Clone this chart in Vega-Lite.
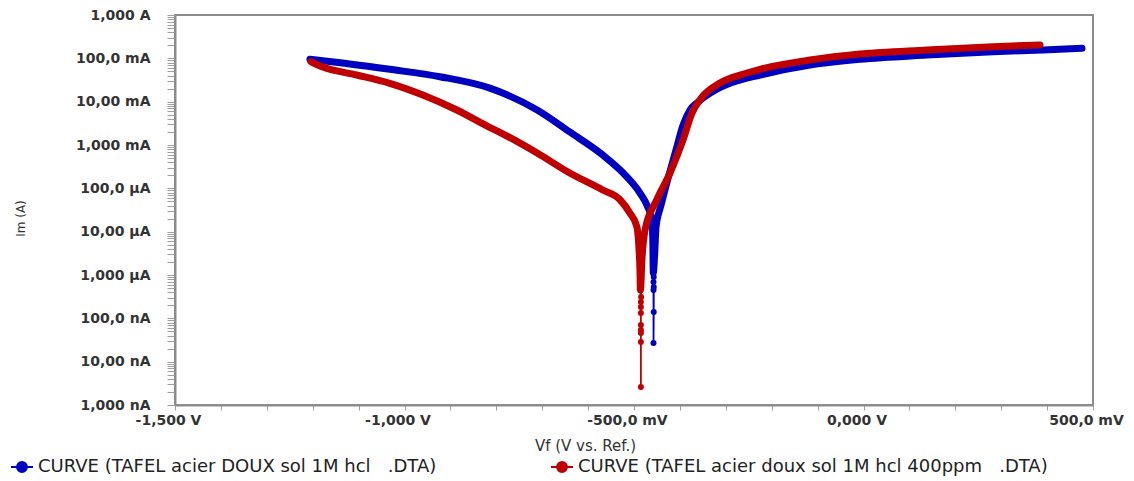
{
  "$schema": "https://vega.github.io/schema/vega-lite/v6.json",
  "autosize": "none",
  "width": 918,
  "height": 390,
  "padding": {"left": 175, "top": 15, "right": 41, "bottom": 76},
  "background": "white",
  "config": {
    "view": {"stroke": "#8c8c8c", "strokeWidth": 2},
    "axis": {
      "labelFont": "DejaVu Sans", "labelFontSize": 14, "labelFontWeight": "bold", "labelColor": "#333333",
      "titleFont": "DejaVu Sans", "titleFontWeight": "normal", "titleColor": "#333333",
      "domainColor": "#8c8c8c", "domainWidth": 2, "tickColor": "#a0a0a0", "grid": false
    },
    "legend": {"labelFont": "DejaVu Sans", "labelFontSize": 18, "labelColor": "#222222"}
  },
  "data": {
    "values": [
      {"s": "CURVE (TAFEL acier DOUX sol 1M hcl\u00a0\u00a0\u00a0.DTA)", "o": 1, "E": -1206, "I": 0.095, "spike": false},
      {"s": "CURVE (TAFEL acier DOUX sol 1M hcl\u00a0\u00a0\u00a0.DTA)", "o": 2, "E": -1140, "I": 0.0793, "spike": false},
      {"s": "CURVE (TAFEL acier DOUX sol 1M hcl\u00a0\u00a0\u00a0.DTA)", "o": 3, "E": -1032, "I": 0.0558, "spike": false},
      {"s": "CURVE (TAFEL acier DOUX sol 1M hcl\u00a0\u00a0\u00a0.DTA)", "o": 4, "E": -923, "I": 0.0377, "spike": false},
      {"s": "CURVE (TAFEL acier DOUX sol 1M hcl\u00a0\u00a0\u00a0.DTA)", "o": 6, "E": -814, "I": 0.0205, "spike": false},
      {"s": "CURVE (TAFEL acier DOUX sol 1M hcl\u00a0\u00a0\u00a0.DTA)", "o": 8, "E": -711, "I": 0.00642, "spike": false},
      {"s": "CURVE (TAFEL acier DOUX sol 1M hcl\u00a0\u00a0\u00a0.DTA)", "o": 9, "E": -640, "I": 0.002, "spike": false},
      {"s": "CURVE (TAFEL acier DOUX sol 1M hcl\u00a0\u00a0\u00a0.DTA)", "o": 10, "E": -568, "I": 0.000587, "spike": false},
      {"s": "CURVE (TAFEL acier DOUX sol 1M hcl\u00a0\u00a0\u00a0.DTA)", "o": 11, "E": -515, "I": 0.000182, "spike": false},
      {"s": "CURVE (TAFEL acier DOUX sol 1M hcl\u00a0\u00a0\u00a0.DTA)", "o": 12, "E": -487, "I": 0.000078, "spike": false},
      {"s": "CURVE (TAFEL acier DOUX sol 1M hcl\u00a0\u00a0\u00a0.DTA)", "o": 13, "E": -470, "I": 0.0000371, "spike": false},
      {"s": "CURVE (TAFEL acier DOUX sol 1M hcl\u00a0\u00a0\u00a0.DTA)", "o": 14, "E": -461, "I": 0.0000186, "spike": false},
      {"s": "CURVE (TAFEL acier DOUX sol 1M hcl\u00a0\u00a0\u00a0.DTA)", "o": 15, "E": -459, "I": 0.00000642, "spike": false},
      {"s": "CURVE (TAFEL acier DOUX sol 1M hcl\u00a0\u00a0\u00a0.DTA)", "o": 16, "E": -458.5, "I": 0.00000247, "spike": false},
      {"s": "CURVE (TAFEL acier DOUX sol 1M hcl\u00a0\u00a0\u00a0.DTA)", "o": 17, "E": -458, "I": 0.00000111, "spike": false},
      {"s": "CURVE (TAFEL acier DOUX sol 1M hcl\u00a0\u00a0\u00a0.DTA)", "o": 18, "E": -457.5, "I": 0.000000689, "spike": true},
      {"s": "CURVE (TAFEL acier DOUX sol 1M hcl\u00a0\u00a0\u00a0.DTA)", "o": 19, "E": -457.5, "I": 0.00000045, "spike": true},
      {"s": "CURVE (TAFEL acier DOUX sol 1M hcl\u00a0\u00a0\u00a0.DTA)", "o": 20, "E": -457.5, "I": 0.0000000269, "spike": true},
      {"s": "CURVE (TAFEL acier DOUX sol 1M hcl\u00a0\u00a0\u00a0.DTA)", "o": 21, "E": -457, "I": 0.00000014, "spike": true},
      {"s": "CURVE (TAFEL acier DOUX sol 1M hcl\u00a0\u00a0\u00a0.DTA)", "o": 22, "E": -457, "I": 0.000000528, "spike": true},
      {"s": "CURVE (TAFEL acier DOUX sol 1M hcl\u00a0\u00a0\u00a0.DTA)", "o": 23, "E": -457, "I": 0.000000898, "spike": true},
      {"s": "CURVE (TAFEL acier DOUX sol 1M hcl\u00a0\u00a0\u00a0.DTA)", "o": 24, "E": -455, "I": 0.000003, "spike": false},
      {"s": "CURVE (TAFEL acier DOUX sol 1M hcl\u00a0\u00a0\u00a0.DTA)", "o": 25, "E": -452, "I": 0.0000128, "spike": false},
      {"s": "CURVE (TAFEL acier DOUX sol 1M hcl\u00a0\u00a0\u00a0.DTA)", "o": 26, "E": -441, "I": 0.0000412, "spike": false},
      {"s": "CURVE (TAFEL acier DOUX sol 1M hcl\u00a0\u00a0\u00a0.DTA)", "o": 27, "E": -428, "I": 0.00014, "spike": false},
      {"s": "CURVE (TAFEL acier DOUX sol 1M hcl\u00a0\u00a0\u00a0.DTA)", "o": 28, "E": -408.5, "I": 0.000766, "spike": false},
      {"s": "CURVE (TAFEL acier DOUX sol 1M hcl\u00a0\u00a0\u00a0.DTA)", "o": 29, "E": -393, "I": 0.00289, "spike": false},
      {"s": "CURVE (TAFEL acier DOUX sol 1M hcl\u00a0\u00a0\u00a0.DTA)", "o": 30, "E": -378, "I": 0.00642, "spike": false},
      {"s": "CURVE (TAFEL acier DOUX sol 1M hcl\u00a0\u00a0\u00a0.DTA)", "o": 31, "E": -360.6, "I": 0.00982, "spike": false},
      {"s": "CURVE (TAFEL acier DOUX sol 1M hcl\u00a0\u00a0\u00a0.DTA)", "o": 32, "E": -334, "I": 0.0158, "spike": false},
      {"s": "CURVE (TAFEL acier DOUX sol 1M hcl\u00a0\u00a0\u00a0.DTA)", "o": 33, "E": -313, "I": 0.021, "spike": false},
      {"s": "CURVE (TAFEL acier DOUX sol 1M hcl\u00a0\u00a0\u00a0.DTA)", "o": 34, "E": -291, "I": 0.0265, "spike": false},
      {"s": "CURVE (TAFEL acier DOUX sol 1M hcl\u00a0\u00a0\u00a0.DTA)", "o": 35, "E": -225.5, "I": 0.0412, "spike": false},
      {"s": "CURVE (TAFEL acier DOUX sol 1M hcl\u00a0\u00a0\u00a0.DTA)", "o": 36, "E": -116.6, "I": 0.0702, "spike": false},
      {"s": "CURVE (TAFEL acier DOUX sol 1M hcl\u00a0\u00a0\u00a0.DTA)", "o": 37, "E": -7.7, "I": 0.095, "spike": false},
      {"s": "CURVE (TAFEL acier DOUX sol 1M hcl\u00a0\u00a0\u00a0.DTA)", "o": 38, "E": 138, "I": 0.119, "spike": false},
      {"s": "CURVE (TAFEL acier DOUX sol 1M hcl\u00a0\u00a0\u00a0.DTA)", "o": 39, "E": 282, "I": 0.142, "spike": false},
      {"s": "CURVE (TAFEL acier DOUX sol 1M hcl\u00a0\u00a0\u00a0.DTA)", "o": 40, "E": 391, "I": 0.156, "spike": false},
      {"s": "CURVE (TAFEL acier DOUX sol 1M hcl\u00a0\u00a0\u00a0.DTA)", "o": 41, "E": 476, "I": 0.17, "spike": false},
      {"s": "CURVE (TAFEL acier doux sol 1M hcl 400ppm\u00a0\u00a0\u00a0.DTA)", "o": 1, "E": -1204, "I": 0.0836, "spike": false},
      {"s": "CURVE (TAFEL acier doux sol 1M hcl 400ppm\u00a0\u00a0\u00a0.DTA)", "o": 2, "E": -1178, "I": 0.0631, "spike": false},
      {"s": "CURVE (TAFEL acier doux sol 1M hcl 400ppm\u00a0\u00a0\u00a0.DTA)", "o": 3, "E": -1104, "I": 0.0412, "spike": false},
      {"s": "CURVE (TAFEL acier doux sol 1M hcl 400ppm\u00a0\u00a0\u00a0.DTA)", "o": 4, "E": -1032, "I": 0.0265, "spike": false},
      {"s": "CURVE (TAFEL acier doux sol 1M hcl 400ppm\u00a0\u00a0\u00a0.DTA)", "o": 5, "E": -960, "I": 0.01425, "spike": false},
      {"s": "CURVE (TAFEL acier doux sol 1M hcl 400ppm\u00a0\u00a0\u00a0.DTA)", "o": 6, "E": -886, "I": 0.00642, "spike": false},
      {"s": "CURVE (TAFEL acier doux sol 1M hcl 400ppm\u00a0\u00a0\u00a0.DTA)", "o": 7, "E": -820, "I": 0.00274, "spike": false},
      {"s": "CURVE (TAFEL acier doux sol 1M hcl 400ppm\u00a0\u00a0\u00a0.DTA)", "o": 8, "E": -785, "I": 0.00179, "spike": false},
      {"s": "CURVE (TAFEL acier doux sol 1M hcl 400ppm\u00a0\u00a0\u00a0.DTA)", "o": 9, "E": -711, "I": 0.000653, "spike": false},
      {"s": "CURVE (TAFEL acier doux sol 1M hcl 400ppm\u00a0\u00a0\u00a0.DTA)", "o": 10, "E": -640, "I": 0.000226, "spike": false},
      {"s": "CURVE (TAFEL acier doux sol 1M hcl 400ppm\u00a0\u00a0\u00a0.DTA)", "o": 11, "E": -568, "I": 0.0000914, "spike": false},
      {"s": "CURVE (TAFEL acier doux sol 1M hcl 400ppm\u00a0\u00a0\u00a0.DTA)", "o": 12, "E": -530, "I": 0.0000538, "spike": false},
      {"s": "CURVE (TAFEL acier doux sol 1M hcl 400ppm\u00a0\u00a0\u00a0.DTA)", "o": 13, "E": -509, "I": 0.0000269, "spike": false},
      {"s": "CURVE (TAFEL acier doux sol 1M hcl 400ppm\u00a0\u00a0\u00a0.DTA)", "o": 14, "E": -493.5, "I": 0.0000128, "spike": false},
      {"s": "CURVE (TAFEL acier doux sol 1M hcl 400ppm\u00a0\u00a0\u00a0.DTA)", "o": 15, "E": -489, "I": 0.00000377, "spike": false},
      {"s": "CURVE (TAFEL acier doux sol 1M hcl 400ppm\u00a0\u00a0\u00a0.DTA)", "o": 16, "E": -487, "I": 0.0000013, "spike": false},
      {"s": "CURVE (TAFEL acier doux sol 1M hcl 400ppm\u00a0\u00a0\u00a0.DTA)", "o": 17, "E": -486, "I": 0.00000045, "spike": false},
      {"s": "CURVE (TAFEL acier doux sol 1M hcl 400ppm\u00a0\u00a0\u00a0.DTA)", "o": 18, "E": -485, "I": 0.000000238, "spike": true},
      {"s": "CURVE (TAFEL acier doux sol 1M hcl 400ppm\u00a0\u00a0\u00a0.DTA)", "o": 19, "E": -485, "I": 0.000000133, "spike": true},
      {"s": "CURVE (TAFEL acier doux sol 1M hcl 400ppm\u00a0\u00a0\u00a0.DTA)", "o": 20, "E": -485, "I": 0.0000000537, "spike": true},
      {"s": "CURVE (TAFEL acier doux sol 1M hcl 400ppm\u00a0\u00a0\u00a0.DTA)", "o": 21, "E": -485, "I": 0.0000000284, "spike": true},
      {"s": "CURVE (TAFEL acier doux sol 1M hcl 400ppm\u00a0\u00a0\u00a0.DTA)", "o": 22, "E": -485, "I": 0.0000000026, "spike": true},
      {"s": "CURVE (TAFEL acier doux sol 1M hcl 400ppm\u00a0\u00a0\u00a0.DTA)", "o": 23, "E": -485, "I": 0.0000000458, "spike": true},
      {"s": "CURVE (TAFEL acier doux sol 1M hcl 400ppm\u00a0\u00a0\u00a0.DTA)", "o": 24, "E": -485, "I": 0.00000007, "spike": true},
      {"s": "CURVE (TAFEL acier doux sol 1M hcl 400ppm\u00a0\u00a0\u00a0.DTA)", "o": 25, "E": -485, "I": 0.000000182, "spike": true},
      {"s": "CURVE (TAFEL acier doux sol 1M hcl 400ppm\u00a0\u00a0\u00a0.DTA)", "o": 26, "E": -484.5, "I": 0.00000031, "spike": true},
      {"s": "CURVE (TAFEL acier doux sol 1M hcl 400ppm\u00a0\u00a0\u00a0.DTA)", "o": 27, "E": -483, "I": 0.000002, "spike": false},
      {"s": "CURVE (TAFEL acier doux sol 1M hcl 400ppm\u00a0\u00a0\u00a0.DTA)", "o": 28, "E": -476, "I": 0.0000109, "spike": false},
      {"s": "CURVE (TAFEL acier doux sol 1M hcl 400ppm\u00a0\u00a0\u00a0.DTA)", "o": 29, "E": -450.6, "I": 0.0000538, "spike": false},
      {"s": "CURVE (TAFEL acier doux sol 1M hcl 400ppm\u00a0\u00a0\u00a0.DTA)", "o": 30, "E": -421.6, "I": 0.000226, "spike": false},
      {"s": "CURVE (TAFEL acier doux sol 1M hcl 400ppm\u00a0\u00a0\u00a0.DTA)", "o": 31, "E": -393.3, "I": 0.0013, "spike": false},
      {"s": "CURVE (TAFEL acier doux sol 1M hcl 400ppm\u00a0\u00a0\u00a0.DTA)", "o": 32, "E": -373.7, "I": 0.00547, "spike": false},
      {"s": "CURVE (TAFEL acier doux sol 1M hcl 400ppm\u00a0\u00a0\u00a0.DTA)", "o": 33, "E": -351.9, "I": 0.0128, "spike": false},
      {"s": "CURVE (TAFEL acier doux sol 1M hcl 400ppm\u00a0\u00a0\u00a0.DTA)", "o": 34, "E": -312.7, "I": 0.027, "spike": false},
      {"s": "CURVE (TAFEL acier doux sol 1M hcl 400ppm\u00a0\u00a0\u00a0.DTA)", "o": 35, "E": -253.8, "I": 0.0459, "spike": false},
      {"s": "CURVE (TAFEL acier doux sol 1M hcl 400ppm\u00a0\u00a0\u00a0.DTA)", "o": 36, "E": -225.5, "I": 0.0558, "spike": false},
      {"s": "CURVE (TAFEL acier doux sol 1M hcl 400ppm\u00a0\u00a0\u00a0.DTA)", "o": 37, "E": -116.6, "I": 0.0915, "spike": false},
      {"s": "CURVE (TAFEL acier doux sol 1M hcl 400ppm\u00a0\u00a0\u00a0.DTA)", "o": 38, "E": -7.7, "I": 0.126, "spike": false},
      {"s": "CURVE (TAFEL acier doux sol 1M hcl 400ppm\u00a0\u00a0\u00a0.DTA)", "o": 39, "E": 138, "I": 0.156, "spike": false},
      {"s": "CURVE (TAFEL acier doux sol 1M hcl 400ppm\u00a0\u00a0\u00a0.DTA)", "o": 40, "E": 282, "I": 0.186, "spike": false},
      {"s": "CURVE (TAFEL acier doux sol 1M hcl 400ppm\u00a0\u00a0\u00a0.DTA)", "o": 41, "E": 384.5, "I": 0.203, "spike": false}
    ]
  },
  "encoding": {
    "x": {
      "field": "E", "type": "quantitative",
      "scale": {"domain": [-1500, 500], "nice": false, "zero": false},
      "axis": {
        "title": "Vf (V vs. Ref.)", "titleFontSize": 15, "titleX": 410, "titleY": 40, "titleBaseline": "middle", "titleAnchor": null,
        "values": [-1500,-1400,-1300,-1200,-1100,-1000,-900,-800,-700,-600,-500,-400,-300,-200,-100,0,100,200,300,400,500],
        "labelExpr": "datum.value == -1500 ? '-1,500 V' : datum.value == -1000 ? '-1,000 V' : datum.value == -500 ? '-500,0 mV' : datum.value == 0 ? '0,000 V' : datum.value == 500 ? '500,0 mV' : ''",
        "labelOverlap": false, "labelFlush": false, "tickSize": 5, "labelPadding": 3, "labelOffset": -7
      }
    },
    "y": {
      "field": "I", "type": "quantitative",
      "scale": {"type": "log", "domain": [1e-9, 1], "nice": false},
      "axis": {
        "title": "Im (A)", "titleFontSize": 12, "titleX": -155, "titleY": 203, "titleAngle": -90, "titleBaseline": "middle", "titleAnchor": null,
        "values": [1e-9,2e-9,3e-9,4e-9,5e-9,6e-9,7e-9,8e-9,9e-9,1e-8,2e-8,3e-8,4e-8,5e-8,6e-8,7e-8,8e-8,9e-8,1e-7,2e-7,3e-7,4e-7,5e-7,6e-7,7e-7,8e-7,9e-7,1e-6,2e-6,3e-6,4e-6,5e-6,6e-6,7e-6,8e-6,9e-6,1e-5,2e-5,3e-5,4e-5,5e-5,6e-5,7e-5,8e-5,9e-5,1e-4,2e-4,3e-4,4e-4,5e-4,6e-4,7e-4,8e-4,9e-4,1e-3,2e-3,3e-3,4e-3,5e-3,6e-3,7e-3,8e-3,9e-3,1e-2,2e-2,3e-2,4e-2,5e-2,6e-2,7e-2,8e-2,9e-2,0.1,0.2,0.3,0.4,0.5,0.6,0.7,0.8,0.9,1],
        "labelExpr": "abs(datum.value / pow(10, round(log(datum.value) / LN10)) - 1) < 0.001 ? ['1,000 nA','10,00 nA','100,0 nA','1,000 µA','10,00 µA','100,0 µA','1,000 mA','10,00 mA','100,0 mA','1,000 A'][round(log(datum.value) / LN10) + 9] : ''",
        "labelOverlap": false, "labelFlush": false, "tickSize": 8, "labelPadding": 17
      }
    },
    "color": {
      "field": "s", "type": "nominal",
      "scale": {"domain": ["CURVE (TAFEL acier DOUX sol 1M hcl\u00a0\u00a0\u00a0.DTA)", "CURVE (TAFEL acier doux sol 1M hcl 400ppm\u00a0\u00a0\u00a0.DTA)"], "range": ["#0000c0", "#c00000"]},
      "legend": {
        "title": null, "orient": "none", "legendX": -165, "legendY": 440, "direction": "horizontal",
        "columnPadding": 110, "labelLimit": 700,
        "symbolType": "M-1,0L1,0M-0.45,0A0.45,0.45 0 1,0 0.45,0A0.45,0.45 0 1,0 -0.45,0Z",
        "symbolSize": 484, "symbolStrokeWidth": 2,
        "encode": {"symbols": {"update": {"fill": {"scale": "color", "field": "value"}, "stroke": {"scale": "color", "field": "value"}, "opacity": {"value": 1}}}}
      }
    },
    "order": {"field": "o", "type": "quantitative"}
  },
  "layer": [
    {
      "mark": {"type": "line", "strokeWidth": 1.8, "clip": true},
      "encoding": {}
    },
    {
      "transform": [{"filter": "!datum.spike"}],
      "mark": {"type": "line", "strokeWidth": 7, "strokeCap": "round", "strokeJoin": "round", "interpolate": "monotone", "clip": true},
      "encoding": {}
    },
    {
      "transform": [{"filter": "datum.spike"}],
      "mark": {"type": "point", "shape": "circle", "filled": true, "size": 36, "opacity": 1},
      "encoding": {}
    }
  ]
}
